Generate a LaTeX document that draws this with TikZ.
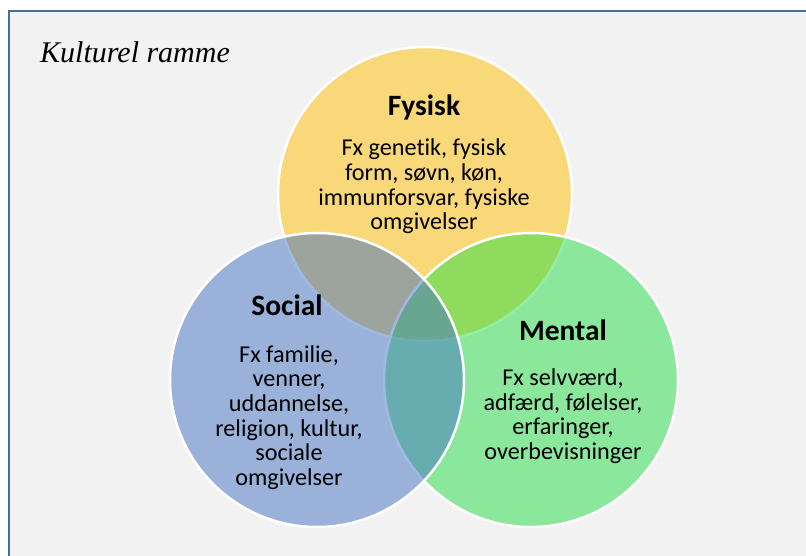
\documentclass[tikz,border=0pt]{standalone}
\usepackage{fontspec}
\setmainfont{Carlito}[Ligatures=NoCommon]
\newfontfamily\rammefont{Liberation Serif}
\usepackage{tikz}
\usetikzlibrary{shapes}
\definecolor{frameblue}{RGB}{65,113,156}
\definecolor{framefill}{RGB}{242,242,242}
\definecolor{fysiskcol}{RGB}{255,192,0}
\definecolor{mentalcol}{RGB}{38,222,70}
\definecolor{socialcol}{RGB}{68,114,196}

\begin{document}
\begin{tikzpicture}[x=1pt,y=-1pt,
	sphere/.style={circle,draw=white,line width=2.5pt,minimum size=294pt,inner sep=0pt,fill opacity=0.5,draw opacity=1},
	head/.style={font=\bfseries\fontsize{29.5}{34}\selectfont},
	body/.style={align=center,inner sep=0pt,font=\fontsize{24.2}{24.6}\selectfont}]
\useasboundingbox (0,0) rectangle (806,555);
\fill[white] (0,0) rectangle (806,555);
\draw[frameblue,line width=2pt,fill=framefill] (9,11) rectangle (840,590);
\node[anchor=base west,inner sep=0pt,font=\rammefont\itshape\fontsize{30}{34}\selectfont] (ramme) at (40,62.5) {Kulturel ramme};
% de tre cirkler
\node[sphere,fill=fysiskcol] (fysisk) at (425,194) {};
\node[sphere,fill=mentalcol] (mental) at (531,380) {};
\node[sphere,fill=socialcol] (social) at (317,380) {};
% tekster
\node[head] (fysiskhead) at (424,107) {Fysisk};
\node[body] (fysisktext) at (424,186.5) {Fx genetik, fysisk\\form, søvn, køn,\\immunforsvar, fysiske\\omgivelser};
\node[head] (socialhead) at (287,305) {Social};
\node[body] (socialtext) at (289,417.5) {Fx familie,\\venner,\\uddannelse,\\religion, kultur,\\sociale\\omgivelser};
\node[head] (mentalhead) at (563,330) {Mental};
\node[body] (mentaltext) at (563,416) {Fx selvværd,\\adfærd, følelser,\\erfaringer,\\overbevisninger};
\end{tikzpicture}
\end{document}
